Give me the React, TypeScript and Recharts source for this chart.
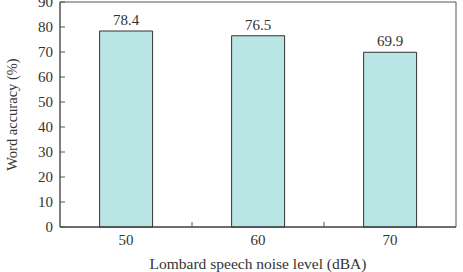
import { Bar, BarChart, LabelList, ReferenceArea, XAxis, YAxis } from "recharts";

const levels = ["50", "60", "70"];
const accuracy = [78.4, 76.5, 69.9];
const yTicks = [0, 10, 20, 30, 40, 50, 60, 70, 80, 90];

const data = levels.map((level, i) => ({ level, accuracy: accuracy[i] }));

const W = 463;
const H = 272;
const MARGIN = { top: 2, right: 7, bottom: 0, left: 0 };
const Y_W = 60;
const X_H = 45;
const BAND = (W - MARGIN.left - MARGIN.right - Y_W) / levels.length;
const FONT = "'Liberation Serif', 'DejaVu Serif', serif";
const TEXT = "#333";
const AXIS = "#555";

function XTick(props: any) {
  const { x, y, payload, index } = props;
  return (
    <g>
      {index > 0 && (
        <line x1={x - BAND / 2} x2={x - BAND / 2} y1={y} y2={y - 5} stroke={AXIS} />
      )}
      <text x={x} y={y + 18} textAnchor="middle" fill={TEXT} fontSize={15} fontFamily={FONT}>
        {payload.value}
      </text>
    </g>
  );
}

export default function App() {
  return (
    <div style={{ position: "absolute", left: 0, top: 0, background: "#fff" }}>
      <BarChart width={W} height={H} data={data} margin={MARGIN} barCategoryGap="30%">
        <XAxis
          dataKey="level"
          height={X_H}
          tickLine={false}
          tickSize={0}
          tickMargin={0}
          axisLine={{ stroke: "#333" }}
          tick={<XTick />}
          label={{
            value: "Lombard speech noise level (dBA)",
            position: "insideBottom",
            offset: 3,
            fill: TEXT,
            fontSize: 15.5,
            fontFamily: FONT,
          }}
        />
        <YAxis
          width={Y_W}
          domain={[0, 90]}
          ticks={yTicks}
          interval={0}
          tickSize={-5}
          tickMargin={12}
          axisLine={{ stroke: AXIS }}
          tickLine={{ stroke: AXIS }}
          tick={{ fill: TEXT, fontSize: 15, fontFamily: FONT }}
          label={{
            value: "Word accuracy (%)",
            angle: -90,
            position: "insideLeft",
            offset: 12,
            style: { textAnchor: "middle" },
            fill: TEXT,
            fontSize: 14.5,
            fontFamily: FONT,
          }}
        />
        <ReferenceArea y1={0} y2={90} fill="none" stroke={AXIS} ifOverflow="visible" />
        <Bar dataKey="accuracy" fill="#b9e5e5" stroke="#333" strokeWidth={1} isAnimationActive={false}>
          <LabelList
            dataKey="accuracy"
            position="top"
            offset={6}
            fill={TEXT}
            fontSize={15}
            fontFamily={FONT}
            formatter={(v: any) => Number(v).toFixed(1)}
          />
        </Bar>
      </BarChart>
    </div>
  );
}
